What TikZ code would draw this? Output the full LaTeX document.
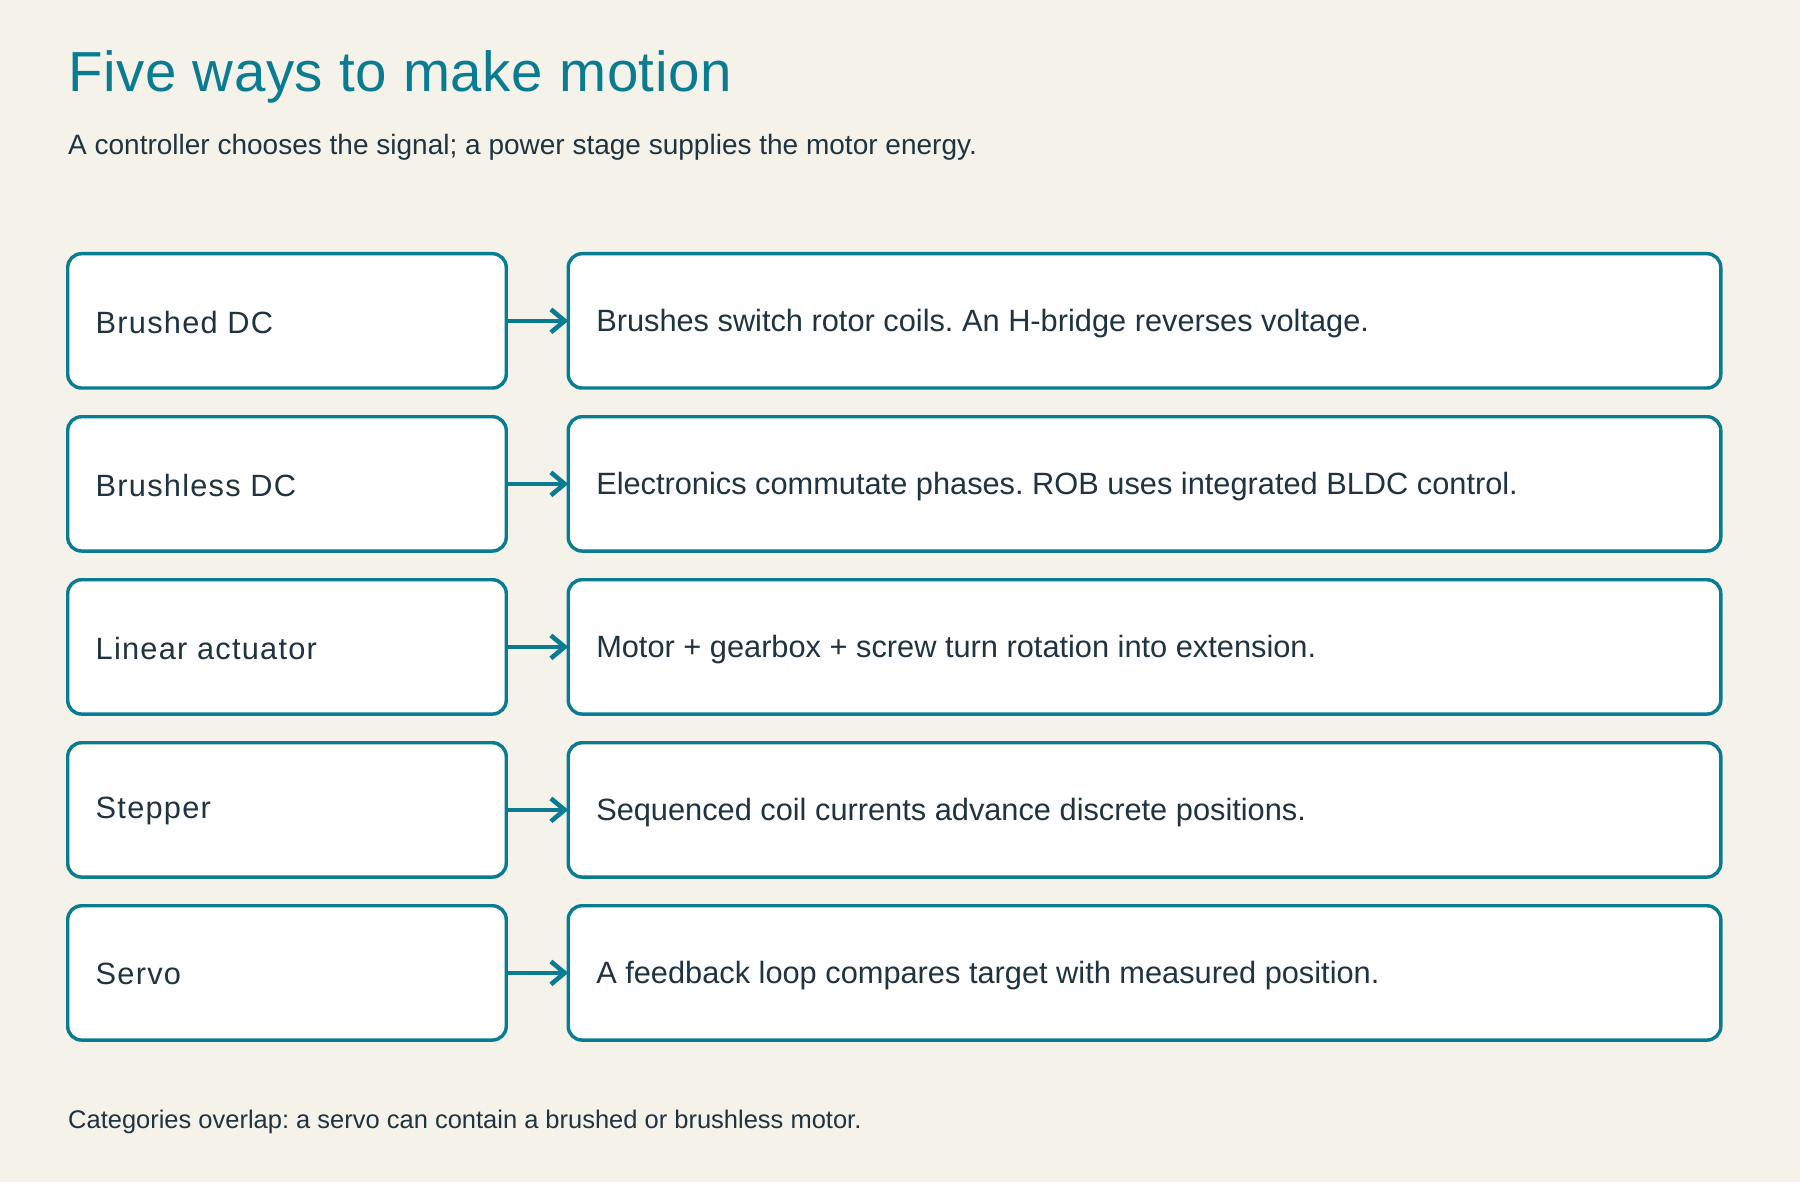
\documentclass[tikz,border=0pt]{standalone}
\usepackage{fontspec}
\setmainfont{Liberation Sans}
\usetikzlibrary{arrows.meta}
\definecolor{teal}{HTML}{0A7C92}
\definecolor{ink}{HTML}{1F3340}
\definecolor{bg}{HTML}{F5F2EA}
\frenchspacing
\begin{document}
\begin{tikzpicture}[x=0.5pt,y=-0.5pt,
  box/.style={draw=teal,line width=1.5pt,fill=white,rounded corners=6pt},
  lbl/.style={text=ink,font=\fontsize{13.4}{15}\selectfont,anchor=west},
  arr/.style={draw=teal,line width=2pt,-{Straight Barb[length=6pt,width=10pt]}}]
\fill[bg] (0,0) rectangle (1568,1030);
\useasboundingbox (0,0) rectangle (1568,1030);
\node[anchor=base west,text=teal,font=\fontsize{24.6}{28}\selectfont\addfontfeature{LetterSpace=1},inner sep=0] (title) at (59,80) {Five ways to make motion};
\node[anchor=west,text=ink,font=\fontsize{12.2}{14}\selectfont,inner sep=0] (sub) at (59,128) {A controller chooses the signal; a power stage supplies the motor energy.};
\foreach \i/\y/\a/\b in {1/279.5/Brushed DC/Brushes switch rotor coils. An H-bridge reverses voltage.,
  2/421.5/Brushless DC/Electronics commutate phases. ROB uses integrated BLDC control.,
  3/563.5/Linear actuator/Motor + gearbox + screw turn rotation into extension.,
  4/705.5/Stepper/Sequenced coil currents advance discrete positions.,
  5/847.5/Servo/A feedback loop compares target with measured position.}{
  \draw[box] (59,\y-58.5) rectangle (441,\y+58.5);
  \draw[box] (495,\y-58.5) rectangle (1499,\y+58.5);
  \coordinate (l\i) at (441,\y);
  \coordinate (r\i) at (495,\y);
  \node[lbl,inner sep=0,font=\fontsize{13.4}{15}\selectfont\addfontfeature{LetterSpace=4}] (a\i) at (83,\y+1) {\a};
  \node[lbl,inner sep=0] (b\i) at (519,\y+2) {\b};
  \draw[arr] (l\i) -- (r\i);
}
\node[anchor=west,text=ink,font=\fontsize{11.1}{13}\selectfont,inner sep=0] (foot) at (59,977) {Categories overlap: a servo can contain a brushed or brushless motor.};
\end{tikzpicture}
\end{document}
